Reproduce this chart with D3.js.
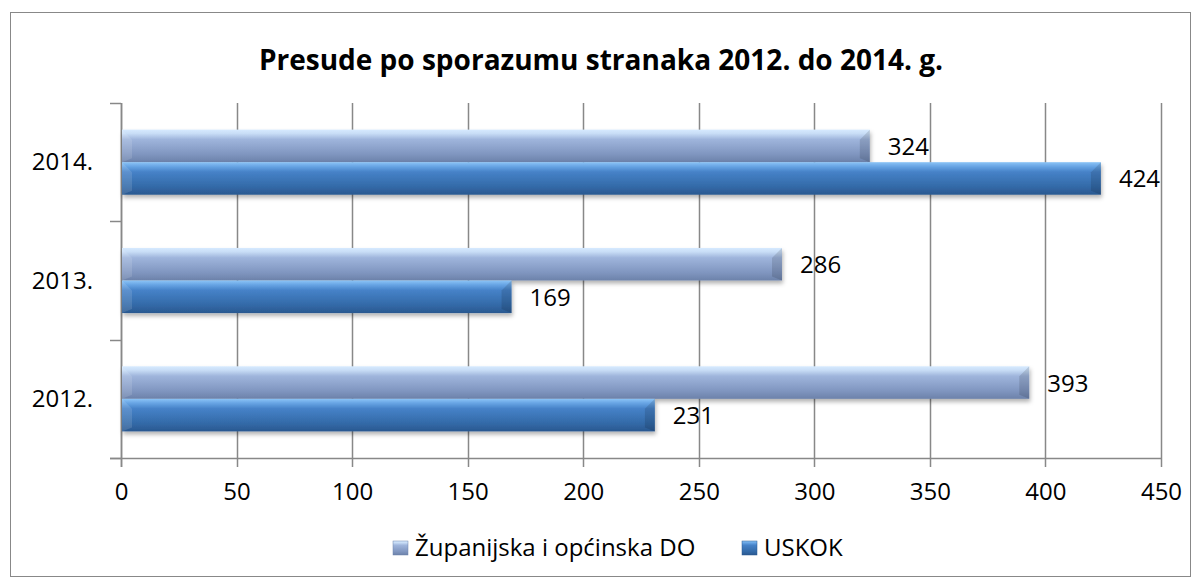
<!DOCTYPE html>
<html>
<head>
<meta charset="utf-8">
<script src="https://cdn.jsdelivr.net/npm/d3@7"></script>
<style>
  body { margin: 0; background: #fff; }
  svg text { font-family: "Open Sans", "Noto Sans", sans-serif; fill: #000; }
</style>
</head>
<body>
<div id="chart"></div>
<script>
// data
var years = ["2012.", "2013.", "2014."];
var seriesNames = ["Županijska i općinska DO", "USKOK"];
var zupanijska = [393, 286, 324];
var uskok = [231, 169, 424];
var xTicks = [0, 50, 100, 150, 200, 250, 300, 350, 400, 450];
var title = "Presude po sporazumu stranaka 2012. do 2014. g.";

var W = 1202, H = 581;
var margin = { top: 103, right: 41, bottom: 123, left: 121 };
var width = W - margin.left - margin.right;
var height = H - margin.top - margin.bottom;
var fs = 24;

var svg = d3.select("#chart").append("svg")
  .attr("width", W).attr("height", H);

// outer frame
svg.append("rect")
  .attr("x", 10.5).attr("y", 12.5)
  .attr("width", 1180).attr("height", 564)
  .attr("fill", "#fff").attr("stroke", "#888").attr("stroke-width", 1);

var defs = svg.append("defs");
function grad(id, stops) {
  var g = defs.append("linearGradient").attr("id", id)
    .attr("x1", 0).attr("y1", 0).attr("x2", 0).attr("y2", 1);
  stops.forEach(function(s) {
    g.append("stop").attr("offset", s[0]).attr("stop-color", s[1]);
  });
}
grad("gZup", [[0, "#d6eaff"], [0.12, "#c8ddf6"], [0.3, "#9fb5dc"], [0.75, "#8096c0"], [1, "#6c82aa"]]);
grad("gUsk", [[0, "#8cc4f6"], [0.12, "#6aa7e6"], [0.3, "#4682c8"], [0.75, "#336aa8"], [1, "#2a5890"]]);
var f = defs.append("filter").attr("id", "shadow")
  .attr("x", "-5%").attr("y", "-20%").attr("width", "110%").attr("height", "160%");
f.append("feDropShadow").attr("dx", 1).attr("dy", 3).attr("stdDeviation", 2)
  .attr("flood-color", "#000").attr("flood-opacity", 0.3);

var g = svg.append("g")
  .attr("transform", "translate(" + margin.left + "," + margin.top + ")");

var x = d3.scaleLinear().domain([0, 450]).range([0, width]);
var y = d3.scaleBand().domain(years.slice().reverse()).range([0, height]).paddingInner(0.45).paddingOuter(0.225);
var y0 = d3.scaleBand().domain(years.slice().reverse()).range([0, height]);
var sub = d3.scaleBand().domain(seriesNames).range([0, y.bandwidth()]);

// vertical gridlines
g.append("g")
  .selectAll("line").data(xTicks).join("line")
  .attr("x1", function(d) { return Math.round(x(d)) + 0.5; })
  .attr("x2", function(d) { return Math.round(x(d)) + 0.5; })
  .attr("y1", 0).attr("y2", height + 9)
  .attr("stroke", "#888").attr("stroke-width", 1.5);

// x axis
var xAxis = g.append("g")
  .attr("transform", "translate(0," + height + ")")
  .call(d3.axisBottom(x).tickValues(xTicks).tickSize(0).tickPadding(0));
xAxis.select(".domain").remove();
xAxis.selectAll("text").attr("font-size", fs).attr("dy", 0).attr("y", 42);
g.append("line")
  .attr("x1", -11).attr("x2", width).attr("y1", height + 0.5).attr("y2", height + 0.5)
  .attr("stroke", "#888").attr("stroke-width", 1.5);

// y axis
var yAxis = g.append("g")
  .call(d3.axisLeft(y).tickSize(0).tickPadding(0));
yAxis.select(".domain").remove();
yAxis.selectAll("text").attr("font-size", fs).attr("dy", 0).attr("x", -28).attr("y", 8);
g.append("g").selectAll("line")
  .data(y0.domain().map(function(d) { return y0(d); }).concat([height]))
  .join("line")
  .attr("x1", -11).attr("x2", 0)
  .attr("y1", function(d) { return Math.round(d) + 0.5; })
  .attr("y2", function(d) { return Math.round(d) + 0.5; })
  .attr("stroke", "#888").attr("stroke-width", 1.5);
g.append("line")
  .attr("x1", 0.5).attr("x2", 0.5).attr("y1", 0).attr("y2", height + 9)
  .attr("stroke", "#888").attr("stroke-width", 1.5);

// bars
var rows = years.map(function(yr, i) {
  return [
    { year: yr, s: seriesNames[0], v: zupanijska[i], fill: "url(#gZup)" },
    { year: yr, s: seriesNames[1], v: uskok[i], fill: "url(#gUsk)" }
  ];
});
var flat = [].concat.apply([], rows);

var bars = g.append("g").selectAll("g.bar").data(flat).join("g").attr("class", "bar");
bars.append("rect")
  .attr("x", 1)
  .attr("y", function(d) { return y(d.year) + sub(d.s); })
  .attr("width", function(d) { return x(d.v) - 1; })
  .attr("height", sub.bandwidth())
  .attr("fill", function(d) { return d.fill; })
  .attr("filter", "url(#shadow)");
// bevel edges
bars.append("path")
  .attr("d", function(d) {
    var x1 = x(d.v), yt = y(d.year) + sub(d.s), h = sub.bandwidth(), b = 10;
    return "M" + x1 + "," + yt + "L" + (x1 - b) + "," + (yt + b) + "L" + (x1 - b) + "," + (yt + h - 4) + "L" + x1 + "," + (yt + h) + "Z";
  })
  .attr("fill", "#000").attr("opacity", 0.12);
bars.append("path")
  .attr("d", function(d) {
    var yt = y(d.year) + sub(d.s), h = sub.bandwidth(), b = 10;
    return "M1," + yt + "L" + (1 + b) + "," + (yt + b) + "L" + (1 + b) + "," + (yt + h - 4) + "L1," + (yt + h) + "Z";
  })
  .attr("fill", "#fff").attr("opacity", 0.12);

// value labels
g.append("g").selectAll("text").data(flat).join("text")
  .attr("x", function(d) { return x(d.v) + 18; })
  .attr("y", function(d) { return y(d.year) + sub(d.s) + sub.bandwidth() / 2 + 9; })
  .attr("font-size", fs)
  .text(function(d) { return d.v; });

// title
svg.append("text")
  .attr("x", 601).attr("y", 70)
  .attr("text-anchor", "middle")
  .attr("font-size", 28).attr("font-weight", "bold")
  .text(title);

// legend
var legend = svg.append("g").attr("transform", "translate(393,556)");
var legX = [0, 349];
seriesNames.forEach(function(name, i) {
  var lg = legend.append("g").attr("transform", "translate(" + legX[i] + ",0)");
  lg.append("rect").attr("x", 0).attr("y", -15).attr("width", 15).attr("height", 14)
    .attr("fill", i === 0 ? "url(#gZup)" : "url(#gUsk)")
    .attr("stroke", i === 0 ? "#6c82aa" : "#2a5890").attr("stroke-width", 0.5);
  lg.append("text").attr("x", 22).attr("y", 0).attr("font-size", fs).text(name);
});
</script>
</body>
</html>
